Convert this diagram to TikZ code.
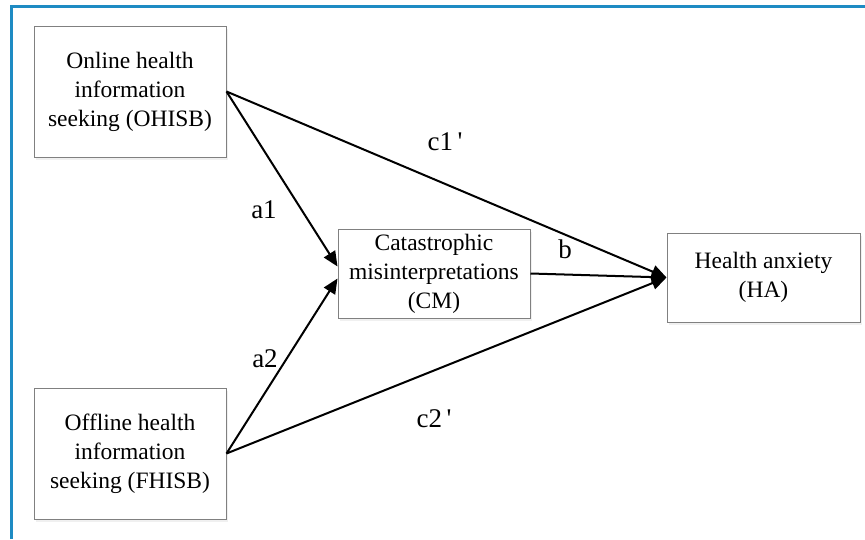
\documentclass[tikz,border=0pt]{standalone}
\usepackage{fontspec}
\setmainfont{Liberation Serif}
\usepackage{xcolor}
\usepackage{tikz}
\usetikzlibrary{arrows.meta}
\usetikzlibrary{shadows}
\definecolor{frameblue}{HTML}{1E8BC3}
\definecolor{boxgray}{HTML}{808080}
\tikzset{
    textnode/.style = {align=center, inner sep=0pt, text centered},
    var_node/.style = {textnode, rectangle, draw=boxgray, line width=1pt, fill=white,
        minimum width=192pt, font=\fontsize{23.5}{29}\selectfont,
        drop shadow={opacity=0.12, shadow xshift=2pt, shadow yshift=-3pt}},
    tall_node/.style = {var_node, minimum height=131pt},
    flat_node/.style = {var_node, minimum height=89pt},
    path_label/.style = {textnode, font=\fontsize{27}{30}\selectfont}
}

\begin{document}
\begin{tikzpicture}
            [x=1pt, y=-1pt, >={Triangle[length=15pt,width=13pt]},
            path_arrow/.style={->, line width=2pt, black}]

            \useasboundingbox (0,0) rectangle (865,539);
            % blue frame, top and left only
            \draw [frameblue, line width=3pt] (11.5,539) -- (11.5,6.5) -- (865,6.5);

            \node [tall_node] (ohisb) at (130,91.5) {Online health\\information\\seeking (OHISB)};
            \node [tall_node] (fhisb) at (130,453.5) {Offline health\\information\\seeking (FHISB)};
            \node [flat_node] (cm) at (434,273.5) {Catastrophic\\misinterpretations\\(CM)};
            \node [flat_node, minimum width=193pt] (ha) at (763.5,277.5) {Health anxiety\\(HA)};

            \draw [path_arrow] (ohisb.east) -- ([yshift=7pt]cm.west);
            \draw [path_arrow] (fhisb.east) -- ([yshift=-5pt]cm.west);
            \draw [path_arrow] (ohisb.east) -- (ha.west);
            \draw [path_arrow] (fhisb.east) -- (ha.west);
            \draw [path_arrow] (cm.east) -- (ha.west);

            \node [path_label] (a1) at (264,210) {a1};
            \node [path_label] (a2) at (265,359) {a2};
            \node [path_label] (b) at (565,249) {b};
            \node [path_label] (c1) at (445,142) {c1\,\textquotesingle};
            \node [path_label] (c2) at (434,419) {c2\,\textquotesingle};
\end{tikzpicture}
\end{document}
